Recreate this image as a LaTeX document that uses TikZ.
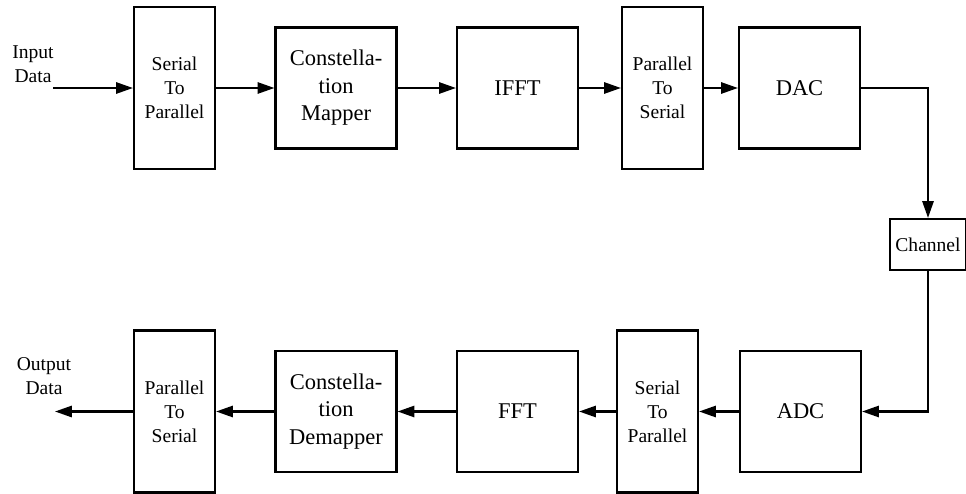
\documentclass[tikz,border=0pt]{standalone}
\usepackage{fontspec}
\setmainfont{Liberation Serif}
\usetikzlibrary{arrows.meta}

\begin{document}
\begin{tikzpicture}[x=0.025cm,y=-0.025cm,line width=1.5pt,
  >={Triangle[length=12pt,width=8pt]},
  sqbox/.style={draw,inner sep=0pt,minimum width=3.025cm,minimum height=3.025cm,align=center,font=\fontsize{16}{19.6}\selectfont},
  tallbox/.style={draw,inner sep=0pt,minimum width=2.025cm,minimum height=4.05cm,align=center,font=\fontsize{13.9}{17.1}\selectfont},
  lbl/.style={align=center,font=\fontsize{13.9}{17.1}\selectfont}]
  \useasboundingbox (0,0) rectangle (966,493);
  \node[lbl] (indata) at (33,64) {Input\\Data};
  \coordinate (in) at (53,88);
  \node[tallbox] (s2pa) at (174.5,88) {Serial\\To\\Parallel};
  \node[sqbox] (map) at (336,88) {Constella-\\tion\\Mapper};
  \node[sqbox] (ifft) at (517.5,88) {IFFT};
  \node[tallbox] (p2sa) at (662.5,88) {Parallel\\To\\Serial};
  \node[sqbox] (dac) at (799.5,88) {DAC};
  \node[draw,inner sep=0pt,minimum width=1.9cm,minimum height=1.275cm,font=\fontsize{13.9}{17.1}\selectfont] (chan) at (928,244.5) {Channel};
  \node[sqbox] (adc) at (800.5,411.5) {ADC};
  \node[tallbox] (s2pb) at (657.5,411.5) {Serial\\To\\Parallel};
  \node[sqbox] (fft) at (517.5,411.5) {FFT};
  \node[sqbox] (demap) at (336,411.5) {Constella-\\tion\\Demapper};
  \node[tallbox] (p2sb) at (174.5,411.5) {Parallel\\To\\Serial};
  \coordinate (out) at (55,411.5);
  \node[lbl] (outdata) at (44,376) {Output\\Data};
  \draw[->] (in) -- (s2pa);
  \draw[->] (s2pa) -- (map);
  \draw[->] (map) -- (ifft);
  \draw[->] (ifft) -- (p2sa);
  \draw[->] (p2sa) -- (dac);
  \draw[->] (dac.east) -| (chan.north);
  \draw[->] (chan.south) |- (adc.east);
  \draw[->] (adc) -- (s2pb);
  \draw[->] (s2pb) -- (fft);
  \draw[->] (fft) -- (demap);
  \draw[->] (demap) -- (p2sb);
  \draw[->] (p2sb) -- (out);
\end{tikzpicture}
\end{document}
